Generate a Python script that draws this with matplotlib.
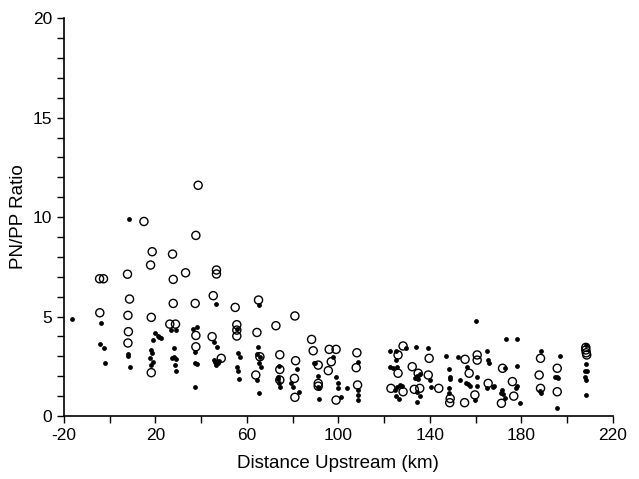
import matplotlib
matplotlib.use("Agg")
import matplotlib.pyplot as plt
import numpy as np

# open circles (distance km, PN/PP ratio)
open_x = [-4.4, -2.7, -4.3,
          7.8, 8.7, 8.0, 8.2, 8.0,
          15.0, 18.6, 17.9, 18.2, 18.2,
          26.3, 28.8, 27.5, 27.8, 27.8,
          33.2,
          38.7, 37.7, 37.4, 37.7, 37.7,
          46.7, 46.7, 45.3, 44.8, 48.8,
          54.9, 55.6, 55.6, 55.6,
          65.1, 64.4, 65.7, 63.9,
          72.7, 74.4, 74.4, 74.4,
          81.0, 81.3, 80.8, 81.0,
          88.3, 89.0, 91.2, 91.2, 91.2,
          96.0, 99.0, 96.9, 95.6, 99.0,
          108.1, 107.8, 108.4,
          128.3, 126.1, 126.1, 123.0, 128.3,
          139.7, 132.3, 134.9, 139.3, 133.2, 135.6, 143.9,
          148.9, 148.7,
          155.4, 157.2, 155.2, 159.7,
          160.7, 160.7, 165.5,
          171.8, 176.1, 176.7, 171.3,
          188.4, 187.8, 188.4,
          195.7, 195.7,
          208.2, 208.2, 208.4, 208.6]
open_y = [6.9, 6.9, 5.19,
          7.13, 5.88, 5.06, 4.24, 3.67,
          9.78, 8.26, 7.59, 4.96, 2.18,
          4.62, 4.62, 8.14, 6.87, 5.66,
          7.2,
          11.6, 9.08, 5.66, 4.05, 3.48,
          7.34, 7.14, 6.05, 3.99, 2.9,
          5.46, 4.59, 4.32, 4.02,
          5.83, 4.2, 2.98, 2.06,
          4.54, 3.08, 2.34, 1.81,
          5.03, 2.78, 1.89, 0.94,
          3.85, 3.28, 2.56, 1.64, 1.5,
          3.35, 3.35, 2.73, 2.28, 0.8,
          3.18, 2.43, 1.56,
          3.52, 3.07, 2.15, 1.39, 1.22,
          2.9, 2.48, 2.15, 2.06, 1.34, 1.39, 1.39,
          0.88, 0.67,
          2.85, 2.15, 0.67, 1.06,
          3.07, 2.81, 1.64,
          2.4, 1.73, 1.0, 0.64,
          2.9, 2.06, 1.39,
          2.4, 1.22,
          3.45, 3.32, 3.18, 3.07]

# filled dots
dot_x = [-16.4, -3.9, -4.2, -2.5, -2.2,
         8.3, 8.2, 8.2, 9.0,
         18.0, 18.4, 17.7, 18.9, 18.0,
         19.8, 18.9, 21.7, 21.0, 22.3,
         27.0, 28.8, 28.1, 28.1, 27.3, 29.0, 28.4, 29.0,
         36.3, 38.3, 37.4, 37.4, 38.0, 37.4,
         46.4, 45.6, 47.0, 45.6, 46.2, 47.3, 46.4, 47.8,
         55.8, 56.3, 56.8, 55.6, 56.0, 56.6,
         65.1, 64.8, 64.4, 65.9, 65.3, 66.1, 64.4, 65.4,
         74.0, 73.7, 74.2, 74.4, 73.5,
         82.0, 79.1, 80.0, 82.9,
         89.2, 90.0, 91.0, 91.4, 91.0, 91.6,
         97.5, 98.9, 99.7, 99.7, 101.1, 104.0,
         108.8, 108.4, 108.4, 108.4,
         122.5, 125.1, 129.6, 125.3, 125.5, 122.8, 124.0,
         124.6, 125.8, 127.0, 127.8, 126.6, 125.0,
         133.9, 139.3, 133.5, 134.5, 134.9, 135.5, 134.5, 135.5, 134.4,
         140.0, 140.7,
         147.0, 148.5, 149.0, 149.0, 148.5, 148.5,
         152.1, 156.3, 153.0, 156.5, 157.5, 156.0, 160.5, 160.5,
         160.4, 165.1, 165.5, 165.9, 159.8,
         164.9, 167.6, 168.2,
         173.2, 177.9, 177.9, 172.8, 171.6, 172.0, 171.0, 173.0, 177.5, 178.0, 179.6,
         188.8, 188.4, 188.0,
         197.1, 194.6, 195.6, 196.0, 195.6,
         208.2, 208.4, 208.0, 208.6, 207.8, 208.2, 208.4]
dot_y = [4.86, 4.69, 3.6, 3.4, 2.68,
         9.9, 3.12, 3.03, 2.46,
         3.32, 3.15, 2.9, 2.73, 2.56,
         4.19, 3.82, 3.95, 4.0, 3.9,
         4.32, 4.32, 3.42, 2.98, 2.91, 2.85, 2.56, 2.28,
         4.39, 4.49, 3.22, 2.68, 2.62, 1.47,
         5.63, 3.73, 3.48, 2.8, 2.7, 2.65, 2.55, 2.75,
         4.35, 3.15, 2.98, 2.48, 2.28, 1.84,
         5.6, 3.48, 3.12, 2.98, 2.68, 2.48, 1.8, 1.17,
         2.51, 1.98, 1.64, 1.47, 1.85,
         2.34, 1.64, 1.47, 1.22,
         2.66, 2.66, 2.0, 1.4, 1.45, 0.88,
         2.95, 1.98, 1.67, 1.39, 0.97, 1.42,
         2.73, 1.31, 1.06, 0.8,
         3.28, 3.28, 3.42, 2.81, 2.48, 2.48, 2.4,
         1.3, 1.45, 1.55, 1.5, 0.84, 1.0,
         3.48, 3.4, 1.9, 2.0, 1.85, 2.1, 1.2, 1.0, 0.72,
         1.81, 1.47,
         3.02, 2.34, 1.98, 1.84, 1.39, 1.14,
         2.95, 2.48, 1.8, 1.6, 1.5, 1.65, 1.95, 1.5,
         4.79, 3.27, 2.81, 2.68, 0.8,
         1.4, 1.45, 1.5,
         3.87, 3.87, 2.51, 2.4, 1.3, 1.1, 1.15, 0.9, 1.4, 1.5, 0.67,
         3.28, 1.17, 1.25,
         3.02, 1.96, 1.96, 1.9, 0.4,
         3.55, 2.61, 2.26, 2.26, 1.94, 1.81, 1.06]

plt.rcParams['font.family'] = ['Liberation Sans', 'DejaVu Sans']

fig = plt.figure(figsize=(6.39, 4.79), dpi=100)
ax = fig.add_axes([0.100, 0.1315, 0.859, 0.8305])

ax.scatter(open_x, open_y, s=34, facecolors='none', edgecolors='black', linewidths=1.0, zorder=3)
ax.scatter(dot_x, dot_y, s=12, c='black', linewidths=0, zorder=4)

ax.set_xlim(-20, 220)
ax.set_ylim(0, 20)
ax.set_xticks(np.arange(-20, 221, 20))
ax.set_xticklabels([str(v) if (v + 20) % 40 == 0 else '' for v in range(-20, 221, 20)])
ax.set_yticks(np.arange(0, 21, 1))
ax.set_yticklabels([str(v) if v % 5 == 0 else '' for v in range(0, 21)])
ax.tick_params(direction='out', length=5, width=1, labelsize=12.5, colors='black')

for side in ['top', 'right']:
    ax.spines[side].set_visible(False)
for side in ['left', 'bottom']:
    ax.spines[side].set_linewidth(1.2)

ax.set_xlabel('Distance Upstream (km)', fontsize=13.5, labelpad=9)
ax.set_ylabel('PN/PP Ratio', fontsize=13.5, labelpad=4)

fig.savefig('out.png', dpi=100)
